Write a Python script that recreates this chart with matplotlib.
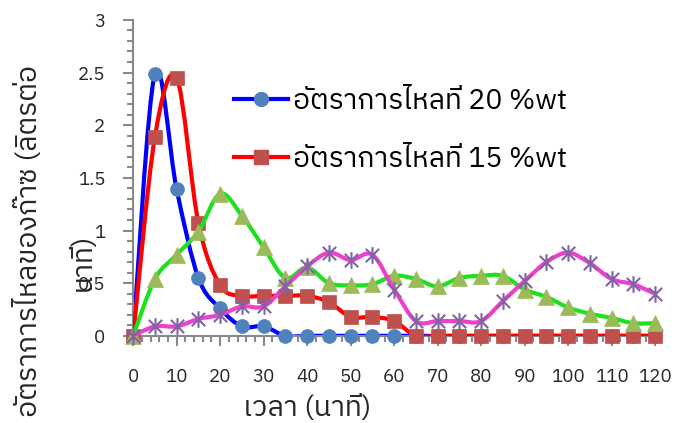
import matplotlib
matplotlib.use("Agg")
import matplotlib.pyplot as plt
from matplotlib import font_manager
from matplotlib.path import Path
from matplotlib.patches import PathPatch
from matplotlib.ticker import MultipleLocator
import numpy as np

# ---------------- data ----------------
time_min = [0, 5, 10, 15, 20, 25, 30, 35, 40, 45, 50, 55, 60, 65, 70, 75, 80,
            85, 90, 95, 100, 105, 110, 115, 120]
flow_20wt = [0, 2.49, 1.39, 0.55, 0.26, 0.09, 0.09, 0, 0, 0, 0, 0, 0, 0, 0, 0, 0,
             0, 0, 0, 0, 0, 0, 0, 0]
flow_15wt = [0, 1.89, 2.45, 1.07, 0.48, 0.38, 0.38, 0.38, 0.38, 0.32, 0.18, 0.18, 0.14,
             0, 0, 0, 0, 0, 0, 0, 0, 0, 0, 0, 0]
flow_s3 = [0, 0.54, 0.77, 0.99, 1.35, 1.14, 0.84, 0.55, 0.65, 0.5, 0.48, 0.49, 0.57,
           0.54, 0.47, 0.55, 0.57, 0.57, 0.44, 0.37, 0.27, 0.21, 0.17, 0.12, 0.12]
flow_s4 = [0, 0.09, 0.09, 0.16, 0.2, 0.28, 0.28, 0.47, 0.66, 0.79, 0.72, 0.77, 0.44,
           0.14, 0.14, 0.14, 0.14, 0.33, 0.52, 0.70, 0.79, 0.69, 0.54, 0.49, 0.40]
label_20 = "อัตราการไหลที่ 20 %wt"
label_15 = "อัตราการไหลที่ 15 %wt"
xlabel_text = "เวลา (นาที)"
ylabel_line1 = "อัตราการไหลของก๊าซ (ลิตรต่อ"
ylabel_line2 = "นาที)"
x_ticks = list(range(0, 121, 10))
y_ticks = [0, 0.5, 1, 1.5, 2, 2.5, 3]
y_tick_labels = ["0", "0.5", "1", "1.5", "2", "2.5", "3"]


# ---------------- font with Thai glyphs ----------------
def find_thai_font():
    try:
        from fontTools.ttLib import TTFont
    except Exception:
        return None
    preferred = []
    others = []
    for f in font_manager.fontManager.ttflist:
        try:
            kw = {}
            if f.fname.lower().endswith((".ttc", ".otc")):
                kw["fontNumber"] = 0
            tt = TTFont(f.fname, lazy=True, **kw)
            cmap = tt.getBestCmap()
            if cmap and 0x0E2D in cmap and 0x0E31 in cmap and 0x0E32 in cmap:
                if "Thai" in f.name or "Tahoma" in f.name:
                    preferred.append(f.name)
                else:
                    others.append(f.name)
        except Exception:
            continue
    if preferred:
        return preferred[0]
    if others:
        return others[0]
    return None


thai = find_thai_font()
families = ([thai] if thai else []) + ["DejaVu Sans"]
plt.rcParams["font.family"] = families

# ---------------- figure ----------------
fig = plt.figure(figsize=(6.76, 4.23), dpi=100)
ax = fig.add_axes([0.197, 0.206, 0.772, 0.747])
ax.set_xlim(0, 120)
ax.set_ylim(0, 3)


def smooth_path(xs, ys):
    xs = np.asarray(xs, float)
    ys = np.asarray(ys, float)
    n = len(xs)
    verts = [(xs[0], ys[0])]
    codes = [Path.MOVETO]
    for i in range(n - 1):
        p0 = np.array([xs[max(i - 1, 0)], ys[max(i - 1, 0)]])
        p1 = np.array([xs[i], ys[i]])
        p2 = np.array([xs[i + 1], ys[i + 1]])
        p3 = np.array([xs[min(i + 2, n - 1)], ys[min(i + 2, n - 1)]])
        c1 = p1 + (p2 - p0) / 6.0
        c2 = p2 - (p3 - p1) / 6.0
        verts += [tuple(c1), tuple(c2), tuple(p2)]
        codes += [Path.CURVE4, Path.CURVE4, Path.CURVE4]
    return Path(verts, codes)


star_marker = Path([(-1, -1), (1, 1), (-1, 1), (1, -1), (0, -1.25), (0, 1.25)],
                   [Path.MOVETO, Path.LINETO, Path.MOVETO, Path.LINETO,
                    Path.MOVETO, Path.LINETO])

series = [
    (flow_20wt, "#0000FF", "o", "#4F81BD", 10, label_20),
    (flow_15wt, "#FF0000", "s", "#C0504D", 10, label_15),
    (flow_s3, "#1EE01E", "^", "#9BBB59", 11, None),
    (flow_s4, "#EE3FCC", star_marker, "#8064A2", 12, None),
]

handles = []
for z, (vals, lc, mk, mc, ms, lab) in enumerate(series):
    patch = PathPatch(smooth_path(time_min, vals), facecolor="none", edgecolor=lc,
                      lw=3, transform=ax.transData, zorder=2 + z * 2,
                      capstyle="round", joinstyle="round")
    ax.add_patch(patch)
    if mk is star_marker:
        ax.plot(time_min, vals, linestyle="none", marker=mk, markersize=ms,
                markeredgecolor=mc, markeredgewidth=1.5, markerfacecolor="none",
                zorder=3 + z * 2, clip_on=False)
    else:
        ax.plot(time_min, vals, linestyle="none", marker=mk, markersize=ms,
                markerfacecolor=mc, markeredgecolor=mc, markeredgewidth=0.5,
                zorder=3 + z * 2, clip_on=False)
    if lab:
        h, = ax.plot([], [], color=lc, lw=3, marker=mk, markersize=ms,
                     markerfacecolor=mc, markeredgecolor=mc, label=lab)
        handles.append(h)

leg = ax.legend(handles=handles, loc="upper left", bbox_to_anchor=(0.193, 0.785),
                frameon=False, fontsize=20.3, handlelength=1.92, handletextpad=0.18,
                labelspacing=1.1, borderaxespad=0, borderpad=0)

# ---------------- axes styling ----------------
grey = "#898989"
for s in ["top", "right"]:
    ax.spines[s].set_visible(False)
for s in ["left", "bottom"]:
    ax.spines[s].set_color(grey)
    ax.spines[s].set_linewidth(1.5)

ax.set_xticks(x_ticks)
ax.set_xticklabels([str(v) for v in x_ticks])
ax.set_yticks(y_ticks)
ax.set_yticklabels(y_tick_labels)
ax.xaxis.set_minor_locator(MultipleLocator(2))
ax.yaxis.set_minor_locator(MultipleLocator(0.1))
ax.tick_params(which="major", direction="out", length=7, width=1.5, color=grey,
               labelsize=13.5, labelcolor="#262626")
ax.tick_params(which="minor", direction="out", length=4.5, width=1.5, color=grey)
ax.tick_params(axis="x", which="major", pad=16)
ax.tick_params(axis="y", which="major", pad=13)

fig.text(0.455, 0.035, xlabel_text, ha="center", va="center", fontsize=20.5,
         color="#262626")
fig.text(0.042, 0.43, ylabel_line1, rotation=90, ha="center", va="center",
         fontsize=20.5, color="#262626")
fig.text(0.123, 0.38, ylabel_line2, rotation=90, ha="center", va="center",
         fontsize=20.5, color="#262626")

fig.savefig("out.png", dpi=100)
